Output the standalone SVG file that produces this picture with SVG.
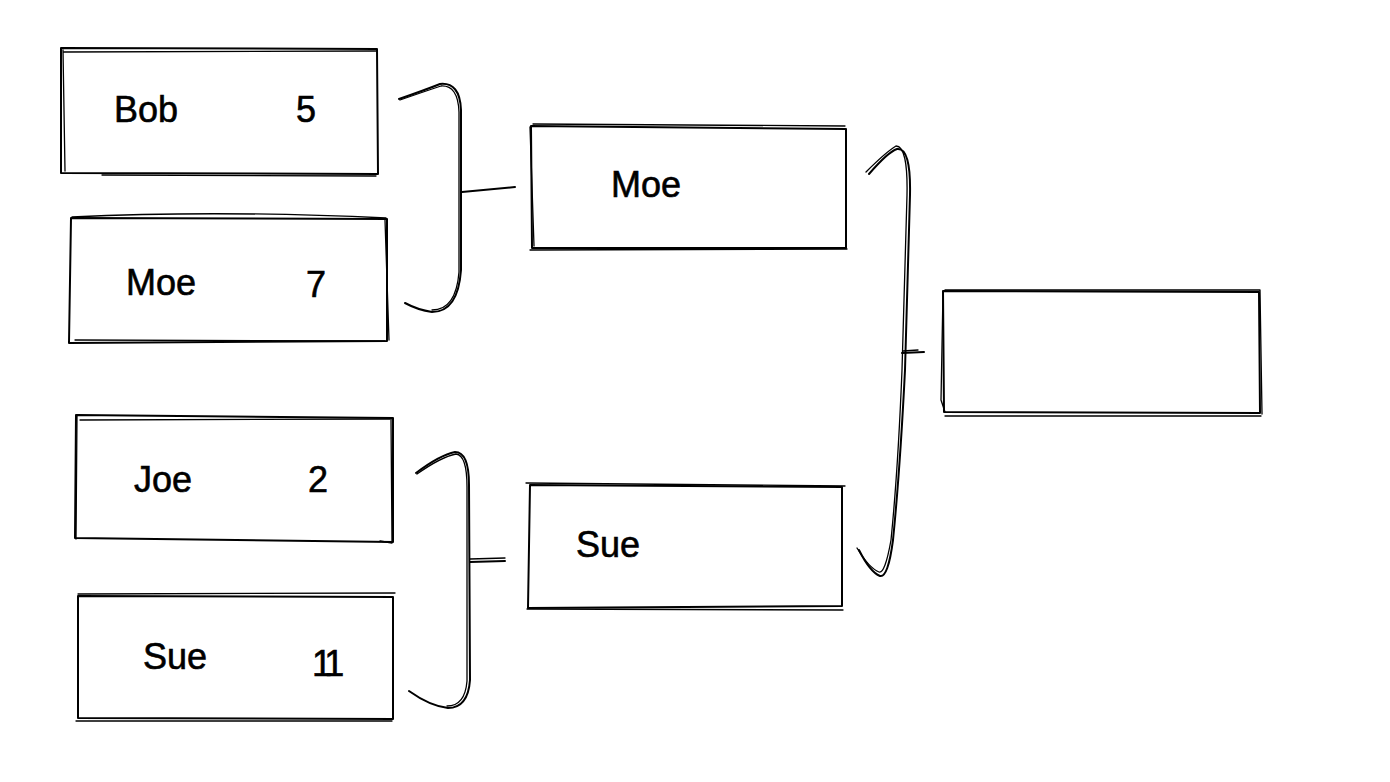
<svg xmlns="http://www.w3.org/2000/svg" width="1390" height="782" viewBox="0 0 1390 782">
<style>
.b{fill:none;stroke:#000;stroke-width:2;stroke-linecap:round;stroke-linejoin:round}
.b2{fill:none;stroke:#000;stroke-width:1.3;stroke-linecap:round;stroke-linejoin:round}
.t{font-family:"Liberation Sans",Arial,sans-serif;font-size:36px;fill:#000;stroke:#000;stroke-width:0.6}
</style>
<rect width="1390" height="782" fill="#fff"/>
<g id="bob">
<path class="b" d="M61 48 L377 49 L378 174 L61 173 Z"/>
<path class="b2" d="M64 52 L376 51 M63 50 L65 171 M102 175 L376 176"/>
<text class="t" x="114" y="122">Bob</text><text class="t" x="296" y="122">5</text>
</g>
<g id="moe7">
<path class="b" d="M71 218 L387 219 L387 341 L69 343 Z"/>
<path class="b2" d="M72 217 Q220 210 386 218 M385 220 L389 340 M75 340 L385 341"/>
<text class="t" x="126" y="295">Moe</text><text class="t" x="306" y="297">7</text>
</g>
<g id="joe">
<path class="b" d="M76 415 L393 418 L393 542 L75 538 Z"/>
<path class="b2" d="M80 420 L392 419 M77 416 L76 539 M391 419 L392 543 L380 541"/>
<text class="t" x="134" y="492">Joe</text><text class="t" x="308" y="492">2</text>
</g>
<g id="sue11">
<path class="b" d="M78 596 L393 597 L393 719 L78 718 Z"/>
<path class="b2" d="M78 594 L395 593 M76 721 L392 721"/>
<text class="t" x="312" y="676" letter-spacing="-5">11</text><text class="t" x="143" y="669">Sue</text>
</g>
<g id="moe">
<path class="b" d="M531 126 L846 129 L846 248 L532 248 Z"/>
<path class="b2" d="M533 124 L845 126 M530 127 L534 246 M530 250 L847 249"/>
<text class="t" x="611" y="197">Moe</text>
</g>
<g id="sue">
<path class="b" d="M530 485 L842 487 L842 606 L528 608 Z"/>
<path class="b2" d="M526 483 L845 486 M527 609 L843 610"/>
<text class="t" x="576" y="557">Sue</text>
</g>
<g id="final">
<path class="b" d="M943 291 L1259 292 L1260 413 L944 412 Z"/>
<path class="b2" d="M945 290 L1260 290 L1262 414 M943 292 L941 400 L945 412 M945 416 L1261 416"/>
</g>
<g id="connectors">
<path class="b" d="M399 99 Q425 90 440 84 Q460 82 461 110 L461 270 Q458 312 432 312 Q418 310 405 303"/>
<path class="b2" d="M400 100 Q426 91 441 86 Q458 85 459 112 L459 272 Q456 310 432 310"/>
<path class="b" d="M462 192 L515 187"/>
<path class="b" d="M416 473 Q440 455 455 452 Q469 452 469 485 L470 680 Q468 708 448 708 Q430 706 409 691"/>
<path class="b2" d="M417 474 Q441 457 456 454 Q467 455 467 487 L467 681 Q465 706 447 706"/>
<path class="b" d="M470 562 L505 561"/>
<path class="b2" d="M470 559 L505 558"/>
<path class="b" d="M869 174 Q888 152 897 149 Q911 147 910 195 L905 370 Q900 470 893 540 Q888 578 880 576 Q870 572 859 550"/>
<path class="b2" d="M866 172 Q886 152 896 146 Q908 146 907 195 L902 370 Q898 470 891 540 Q885 574 879 572 Q869 568 857 548"/>
<path class="b" d="M902 353 L924 352"/>
<path class="b2" d="M903 351 L918 350"/>
</g>
</svg>
